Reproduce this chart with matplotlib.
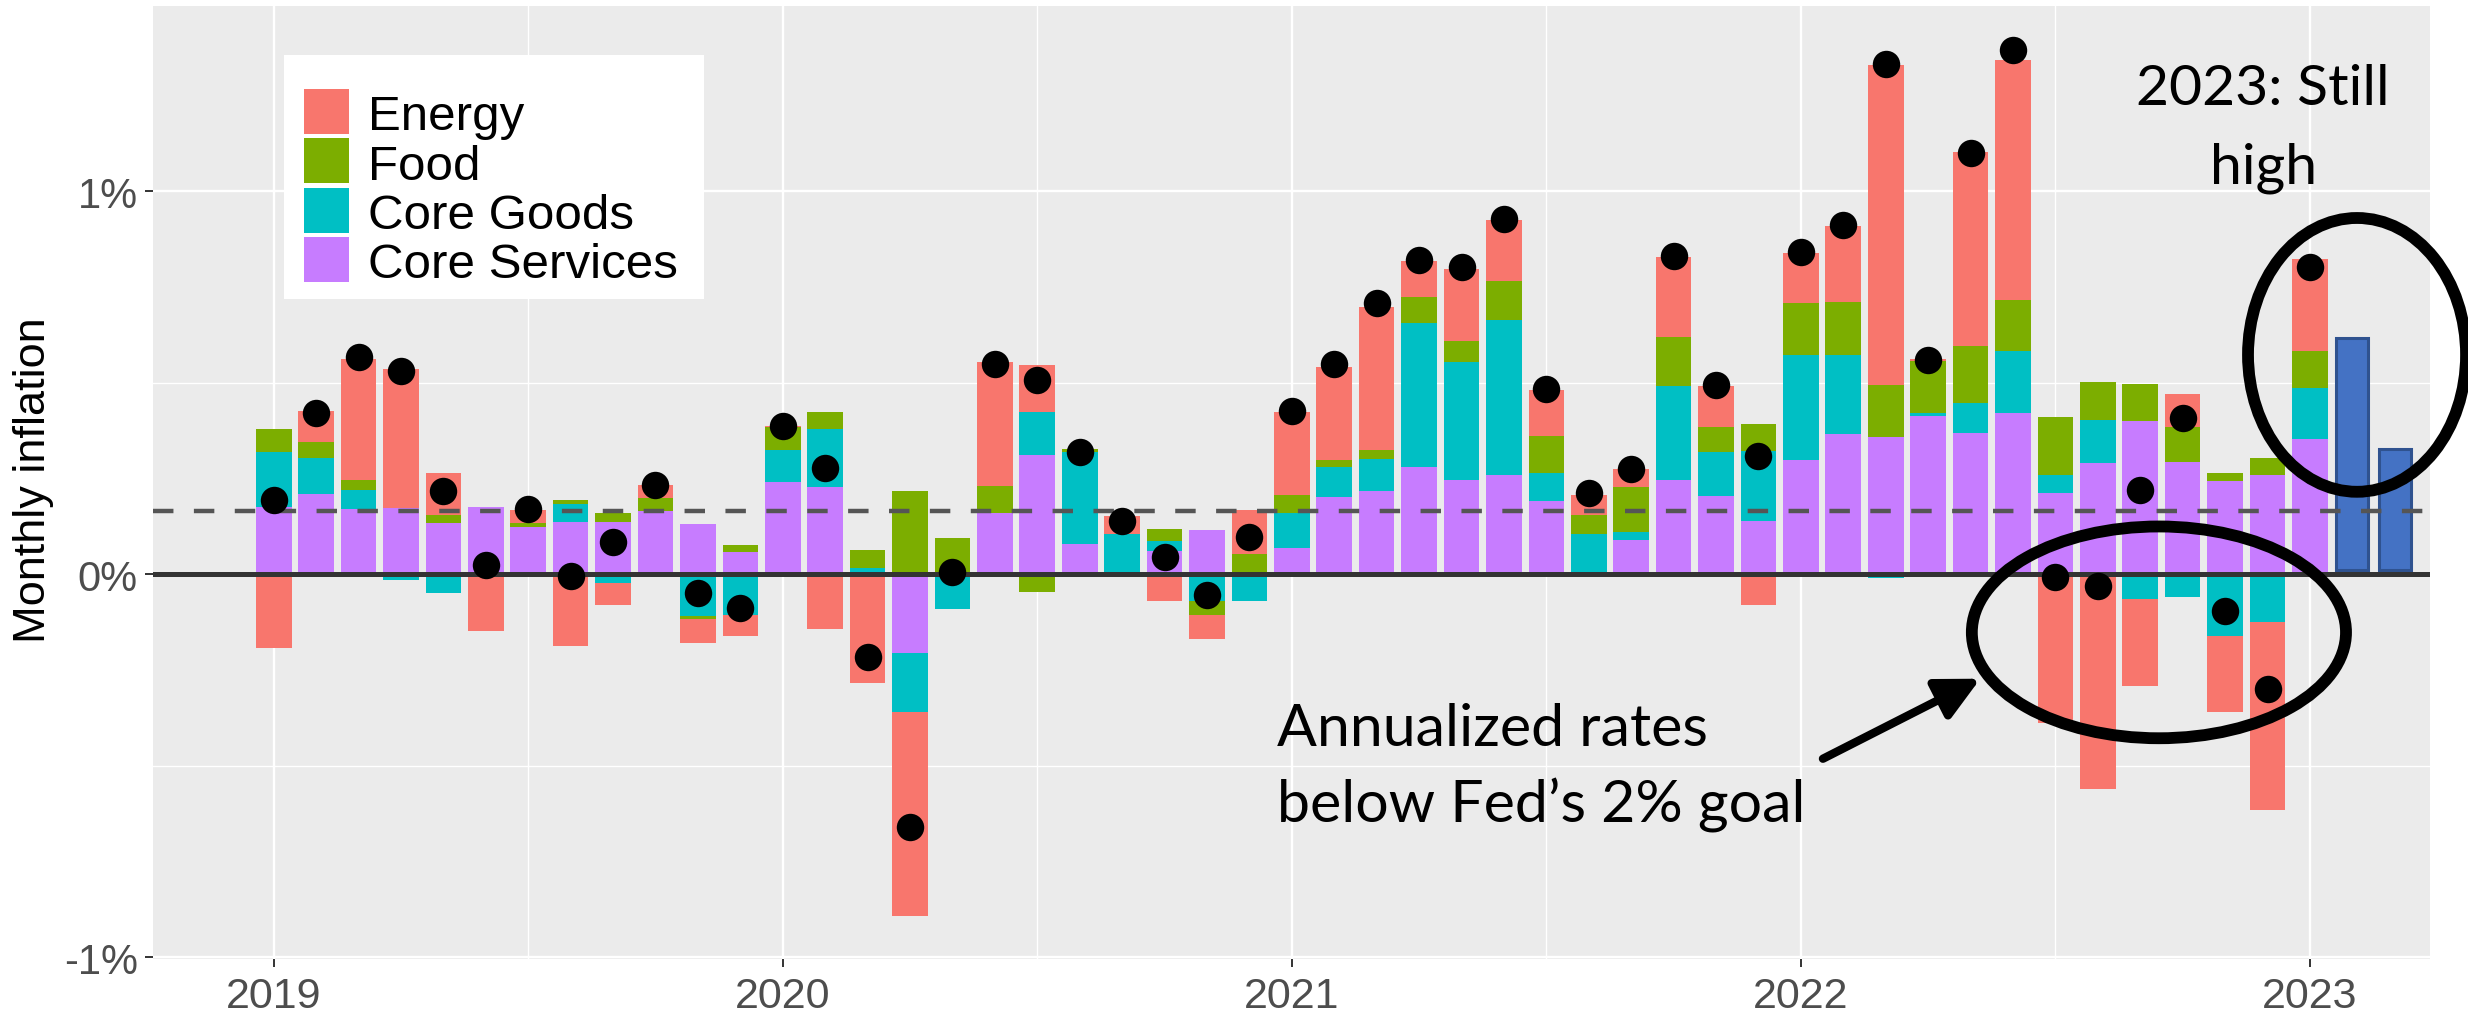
import matplotlib
matplotlib.use("Agg")
import matplotlib.pyplot as plt
import numpy as np
from matplotlib.patches import Rectangle, Ellipse, FancyArrowPatch

# ---------------- data (monthly % change, contributions) ----------------
# months indexed from Jan 2019 (0) to Jan 2023 (48)
month_idx = list(range(49))
core_services = [0.176, 0.209, 0.171, 0.174, 0.133, 0.176, 0.122, 0.135, 0.136, 0.165, 0.130, 0.058,
                 0.240, 0.228, 0.005, -0.206, 0.000, 0.161, 0.312, 0.080, 0.000, 0.061, 0.116, -0.005,
                 0.067, 0.202, 0.216, 0.281, 0.246, 0.258, 0.190, 0.005, 0.090, 0.246, 0.205, 0.138,
                 0.298, 0.365, 0.359, 0.413, 0.368, 0.422, 0.213, 0.291, 0.401, 0.294, 0.243, 0.260,
                 0.352]
core_goods = [0.142, 0.094, 0.049, -0.015, -0.050, 0.000, 0.000, 0.048, -0.024, 0.000, -0.110, -0.106,
              0.083, 0.150, 0.012, -0.153, -0.090, 0.000, 0.112, 0.238, 0.104, 0.025, -0.069, -0.064,
              0.092, 0.078, 0.084, 0.376, 0.308, 0.406, 0.075, 0.101, 0.019, 0.245, 0.115, 0.183,
              0.274, 0.207, -0.011, 0.007, 0.078, 0.161, 0.045, 0.111, -0.064, -0.060, -0.162, -0.125,
              0.133]
food = [0.061, 0.043, 0.026, 0.000, 0.021, 0.000, 0.011, 0.010, 0.025, 0.035, -0.008, 0.018,
        0.061, 0.046, 0.047, 0.216, 0.095, 0.070, -0.046, 0.009, 0.000, 0.033, -0.038, 0.052,
        0.049, 0.018, 0.024, 0.066, 0.056, 0.101, 0.097, 0.048, 0.119, 0.128, 0.064, 0.072,
        0.136, 0.139, 0.135, 0.137, 0.150, 0.134, 0.152, 0.101, 0.096, 0.091, 0.020, 0.043,
        0.098]
energy = [-0.193, 0.079, 0.317, 0.361, 0.109, -0.148, 0.035, -0.188, -0.056, 0.034, -0.061, -0.056,
          0.003, -0.144, -0.285, -0.535, 0.000, 0.323, 0.123, 0.000, 0.047, -0.070, -0.063, 0.116,
          0.216, 0.242, 0.373, 0.095, 0.187, 0.159, 0.120, 0.054, 0.046, 0.208, 0.107, -0.080,
          0.130, 0.199, 0.836, 0.006, 0.506, 0.626, -0.390, -0.560, -0.228, 0.086, -0.197, -0.490,
          0.240]
total = [0.194, 0.422, 0.566, 0.531, 0.216, 0.024, 0.171, -0.005, 0.083, 0.232, -0.050, -0.089,
         0.388, 0.277, -0.217, -0.661, 0.006, 0.549, 0.506, 0.318, 0.140, 0.046, -0.055, 0.096,
         0.427, 0.549, 0.709, 0.820, 0.803, 0.928, 0.483, 0.211, 0.275, 0.832, 0.494, 0.309,
         0.842, 0.913, 1.333, 0.560, 1.101, 1.368, -0.008, -0.031, 0.219, 0.408, -0.095, -0.301,
         0.801]
proj_idx = [49, 50]          # Feb 2023, Mar 2023
proj_values = [0.607, 0.317]
target = 0.165               # 2% annualized
year_ticks = [0, 12, 24, 36, 48]
year_labels = ["2019", "2020", "2021", "2022", "2023"]
year_minor = [6, 18, 30, 42]
y_ticks = [-1, 0, 1]
y_labels = ["-1%", "0%", "1%"]
y_minor = [-0.5, 0.5]

series = [("Core Services", core_services, "#C77CFF"),
          ("Core Goods", core_goods, "#00BFC4"),
          ("Food", food, "#7CAE00"),
          ("Energy", energy, "#F8766D")]

# ---------------- figure ----------------
W, H = 2468, 1020
fig = plt.figure(figsize=(W / 100, H / 100), dpi=100)
ax = fig.add_axes([153 / W, 1 - 960 / H, (2430 - 153) / W, (960 - 6.5) / H])
ax.set_facecolor("#EBEBEB")
for s in ax.spines.values():
    s.set_visible(False)

x = np.array(month_idx)
pos_bottom = np.zeros(len(x))
neg_bottom = np.zeros(len(x))
for name, vals, col in series:
    v = np.array(vals)
    bottom = np.where(v >= 0, pos_bottom, neg_bottom)
    ax.bar(x, v, width=0.84, bottom=bottom, color=col, linewidth=0, zorder=2)
    pos_bottom += np.clip(v, 0, None)
    neg_bottom += np.clip(v, None, 0)

ax.bar(proj_idx, proj_values, width=0.755, bottom=0.01, color="#4472C4",
       edgecolor="#2F528F", linewidth=2.2, zorder=2.5)

ax.axhline(0, color="#333333", lw=3.6, zorder=3)
ax.axhline(target, color="#555555", lw=3.2, ls=(0, (4.6, 4.6)), zorder=3.5)
ax.scatter(x, total, s=390, color="black", linewidths=0, zorder=5)

ax.set_xticks(year_ticks)
ax.set_xticklabels(year_labels)
ax.set_xticks(year_minor, minor=True)
ax.set_yticks(y_ticks)
ax.set_yticklabels(y_labels)
ax.set_yticks(y_minor, minor=True)
ax.set_xlim(-2.845, 50.83)
ax.set_ylim(-1.005, 1.485)
ax.set_axisbelow(True)
ax.grid(which="major", color="white", lw=1.7, zorder=0)
ax.grid(which="minor", color="white", lw=1.0, zorder=0)
ax.tick_params(which="major", length=6, width=1.4, color="#333333",
               labelcolor="#4D4D4D", labelsize=30, pad=5)
ax.tick_params(axis="x", which="major", labelsize=31, pad=6)
ax.tick_params(which="minor", length=0)
for lab in ax.get_xticklabels() + ax.get_yticklabels():
    lab.set_family("Liberation Sans")

ax.set_ylabel("Monthly inflation", fontsize=32.5, family="Liberation Sans", color="black")
ax.yaxis.set_label_coords(-0.0435, 0.503)

# ---------------- legend (manual, ggplot-like) ----------------
def fx(px):
    return px / W

def fy(py):
    return 1 - py / H

ax.add_patch(Rectangle((fx(284), fy(300)), (704 - 284) / W, (300 - 56) / H,
                       transform=fig.transFigure, facecolor="white", edgecolor="none",
                       clip_on=False, zorder=10))
for i, (name, vals, col) in enumerate(series[::-1]):
    top = 90 + i * 49.3
    ax.add_patch(Rectangle((fx(304), fy(top + 45)), 45 / W, 45 / H,
                           transform=fig.transFigure, facecolor=col, edgecolor="none",
                           clip_on=False, zorder=11))
    ax.text(fx(368), fy(top + 28), name, transform=fig.transFigure, fontsize=35.5,
            family="Liberation Sans", va="center", ha="left", color="black", zorder=12)

# ---------------- annotations ----------------
ann_font = "Lato"
ax.text(23.65, -0.446, "Annualized rates", fontsize=42.5, family=ann_font,
        ha="left", va="baseline", color="black", zorder=12)
ax.text(23.65, -0.647, "below Fed\u2019s 2% goal", fontsize=42.5, family=ann_font,
        ha="left", va="baseline", color="black", zorder=12)
ax.text(46.9, 1.228, "2023: Still", fontsize=41, family=ann_font,
        ha="center", va="baseline", color="black", zorder=12, clip_on=False)
ax.text(46.9, 1.024, "high", fontsize=41, family=ann_font,
        ha="center", va="baseline", color="black", zorder=12, clip_on=False)

ax.add_patch(Ellipse((44.44, -0.152), 8.82, 0.553, fill=False, edgecolor="black",
                     lw=8.5, zorder=11, clip_on=False))
ax.add_patch(Ellipse((49.11, 0.5726), 5.14, 0.715, fill=False, edgecolor="black",
                     lw=8.5, zorder=11, clip_on=False))
ax.add_patch(FancyArrowPatch((36.52, -0.482), (40.23, -0.273),
                             arrowstyle="-|>,head_length=26,head_width=13",
                             mutation_scale=1, lw=6, color="black",
                             shrinkA=0, shrinkB=0, zorder=11, clip_on=False))

fig.savefig("out.png", dpi=100)
